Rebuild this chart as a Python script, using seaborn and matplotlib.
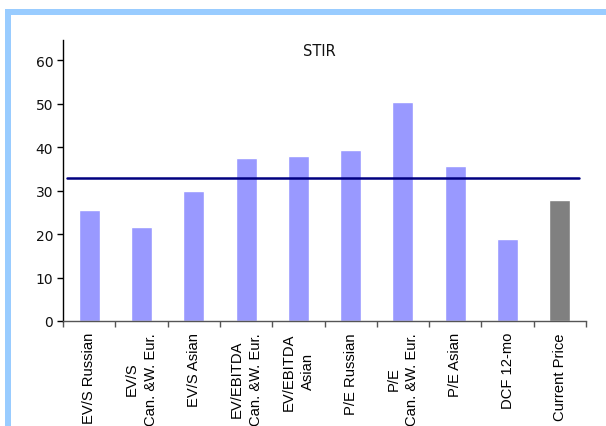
import matplotlib
matplotlib.use("Agg")
import matplotlib.pyplot as plt
from matplotlib.patches import Rectangle
import seaborn as sns
import pandas as pd

categories = ["EV/S Russian", "EV/S\nCan. &W. Eur.", "EV/S Asian", "EV/EBITDA\nCan. &W. Eur.",
              "EV/EBITDA\nAsian", "P/E Russian", "P/E\nCan. &W. Eur.", "P/E Asian",
              "DCF 12-mo", "Current Price"]
values = [25.6, 21.7, 30.0, 37.6, 38.0, 39.4, 50.5, 35.7, 18.9, 27.9]
bar_colors = ["#9999ff"] * 9 + ["#808080"]
reference_level = 33.0
title = "STIR"

sns.set_theme(style="white")
plt.rcParams["font.family"] = ["Liberation Sans", "DejaVu Sans"]

fig = plt.figure(figsize=(6.06, 4.27), dpi=100)
ax = fig.add_axes([63 / 606, 1 - 322 / 427, (586 - 63) / 606, (322 - 41) / 427])

df = pd.DataFrame({"cat": categories, "val": values})
sns.barplot(data=df, x="cat", y="val", hue="cat", palette=bar_colors, legend=False,
            width=0.4, saturation=1, ax=ax)

ax.axhline(reference_level, xmin=(67 - 63) / 523, xmax=(579 - 63) / 523, color="#000080", lw=1.8)

ax.set_xlim(-0.5, len(categories) - 0.5)
ax.set_ylim(0, 64.7)
ax.set_yticks(range(0, 61, 10))
ax.set_xlabel("")
ax.set_ylabel("")

for s in ["top", "right"]:
    ax.spines[s].set_visible(False)
ax.spines["left"].set_color("black")
ax.spines["left"].set_linewidth(1.0)
ax.spines["bottom"].set_color("#555555")
ax.spines["bottom"].set_linewidth(1.0)

ax.set_xticks(range(len(categories)))
ax.set_xticklabels(categories, rotation=90, ha="center", va="top", fontsize=10.6, linespacing=1.45)
ax.set_xticks([i - 0.5 for i in range(len(categories) + 1)], minor=True)
ax.tick_params(axis="x", which="major", length=0, pad=8, colors="black")
ax.tick_params(axis="x", which="minor", length=4, width=1, color="#555555", direction="out", bottom=True)
ax.tick_params(axis="y", which="major", length=4, width=1, color="black", direction="out", left=True,
               pad=3, labelsize=10, labelcolor="#111111")
for lab in ax.get_yticklabels():
    lab.set_fontfamily("DejaVu Sans")

ax.text(0.49, 0.961, title, transform=ax.transAxes, ha="center", va="center", fontsize=10.5,
        color="#111111", family="DejaVu Sans")

# light blue frame (top and left)
fig.add_artist(Rectangle((5 / 606, 1 - 16 / 427), 1, 6 / 427, transform=fig.transFigure,
                         color="#99ccff", lw=0))
fig.add_artist(Rectangle((5 / 606, 0), 6 / 606, 1 - 10 / 427, transform=fig.transFigure,
                         color="#99ccff", lw=0))

fig.savefig("out.png", dpi=100)
